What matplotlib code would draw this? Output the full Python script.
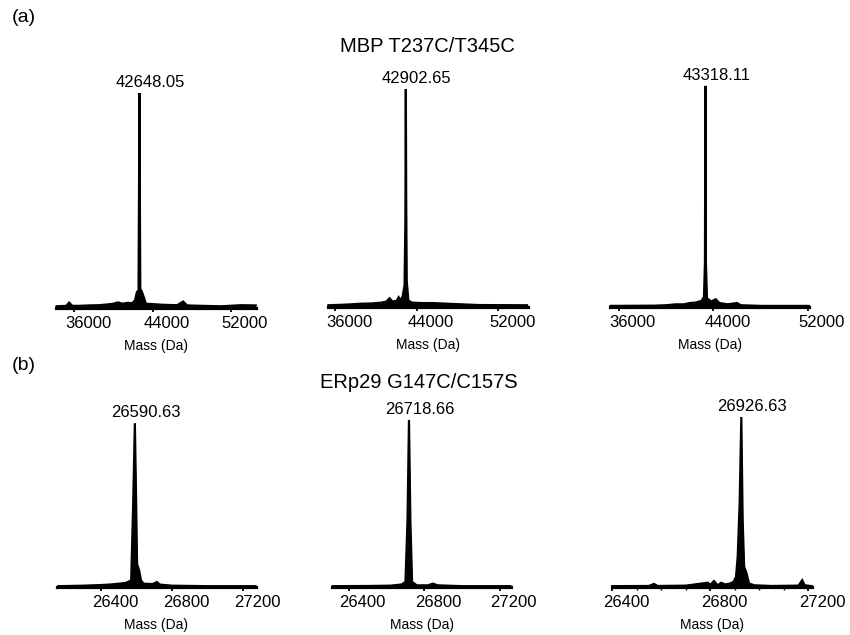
import matplotlib
matplotlib.use("Agg")
import matplotlib.pyplot as plt
from matplotlib.ticker import FixedLocator, MultipleLocator
from matplotlib.transforms import ScaledTranslation

plt.rcParams["font.family"] = ["Liberation Sans", "DejaVu Sans"]

# ---- deconvoluted mass spectra (mass in Da, relative intensity in %) ----
mbp_1_mass = [34200, 35200, 35490, 35800, 36500, 37500, 38500, 39300, 40000, 40480,
              40900, 41500, 41900, 42200, 42400, 42560, 42610, 42648.05, 42690, 42740,
              42900, 43100, 43300, 44000, 45000, 46500, 47100, 47500, 49000, 51000,
              53000, 54500]
mbp_1_int = [0.8, 1.0, 2.5, 1.0, 1.0, 1.2, 1.3, 1.6, 2.0, 2.6,
             2.0, 2.4, 2.2, 3.5, 7.5, 8.0, 55, 100, 55, 9.0,
             7.5, 5.0, 2.0, 1.8, 1.5, 1.3, 3.0, 1.2, 1.0, 0.8,
             1.3, 1.2]

mbp_2_mass = [35300, 36500, 37500, 38500, 39500, 40500, 41000, 41300, 41600, 42000,
              42200, 42400, 42600, 42780, 42860, 42902.65, 42940, 42990, 43150, 43500,
              44500, 45500, 46500, 47500, 48500, 50000, 54800]
mbp_2_int = [0.8, 1.0, 1.2, 1.5, 1.6, 2.0, 2.5, 4.0, 2.5, 2.8,
             4.5, 3.0, 5.0, 10, 40, 100, 50, 12, 3.0, 2.0,
             1.8, 1.8, 1.6, 1.4, 1.2, 0.9, 0.8]

mbp_3_mass = [35300, 39000, 40000, 40800, 41500, 42000, 42500, 43000, 43200, 43280,
              43318.11, 43360, 43450, 43800, 44200, 44500, 45200, 46000, 46300, 48000,
              52050]
mbp_3_int = [0.5, 0.6, 0.8, 1.2, 1.2, 1.8, 2.0, 2.8, 4.5, 20,
             100, 20, 4.0, 2.5, 3.5, 1.8, 1.2, 1.8, 0.8, 0.5,
             0.5]

erp_1_mass = [26160, 26300, 26400, 26450, 26500, 26540, 26570, 26581, 26590.63, 26598,
              26603, 26615, 26625, 26640, 26690, 26705, 26715, 26730, 26800, 27000,
              27270]
erp_1_int = [0.5, 0.8, 1.2, 1.5, 2.0, 2.5, 4.0, 50, 100, 50,
             14, 10, 4.0, 2.0, 1.8, 2.5, 3.0, 1.5, 0.8, 0.5,
             0.5]

erp_2_mass = [26315, 26500, 26620, 26680, 26700, 26711, 26718.66, 26726, 26735, 26760,
              26820, 26845, 26870, 27000, 27255]
erp_2_int = [0.5, 0.6, 0.8, 1.5, 3.0, 40, 100, 40, 3.0, 1.0,
             1.0, 2.0, 1.0, 0.5, 0.5]

erp_3_mass = [26400, 26550, 26570, 26585, 26700, 26790, 26800, 26815, 26830, 26845,
              26860, 26880, 26895, 26905, 26912, 26920, 26926.63, 26932, 26938, 26948,
              26958, 26980, 27050, 27160, 27175, 27185, 27214]
erp_3_int = [0.5, 0.6, 1.8, 0.6, 0.8, 2.5, 1.2, 3.5, 1.0, 2.5,
             1.5, 2.0, 3.0, 6.0, 18, 50, 100, 40, 12, 8.0,
             2.0, 1.0, 0.6, 0.8, 4.0, 1.0, 0.5]

peak_labels = ["42648.05", "42902.65", "43318.11", "26590.63", "26718.66", "26926.63"]
peak_masses = [42648.05, 42902.65, 43318.11, 26590.63, 26718.66, 26926.63]

mbp_ticks = [36000, 44000, 52000]
erp_ticks = [26400, 26800, 27200]

row_titles = ["MBP T237C/T345C", "ERp29 G147C/C157S"]
panel_tags = ["(a)", "(b)"]
x_label = "Mass (Da)"

spectra = [
    (mbp_1_mass, mbp_1_int), (mbp_2_mass, mbp_2_int), (mbp_3_mass, mbp_3_int),
    (erp_1_mass, erp_1_int), (erp_2_mass, erp_2_int), (erp_3_mass, erp_3_int),
]

# ---- layout (pixels on an 850 x 635 canvas) ----
W, H = 850, 635
# left, right, bottom (axis line), top, xmin, xmax, fraction of height reached by peak
boxes = [
    (56, 256, 308, 80, 34149, 54531, 0.943),
    (328, 528, 307, 80, 35264, 54896, 0.960),
    (610, 809, 307, 80, 35250, 52080, 0.974),
    (57, 256, 587, 405, 26152, 27273, 0.900),
    (332, 511, 587, 405, 26311, 27259, 0.918),
    (612, 812, 587, 405, 26399, 27215, 0.934),
]

fig = plt.figure(figsize=(W / 100, H / 100), dpi=100)
tick_shift = ScaledTranslation(10 / 72, 0, fig.dpi_scale_trans)

for i, ((mass, inten), box) in enumerate(zip(spectra, boxes)):
    l, r, b, t, x0, x1, frac = box
    ax = fig.add_axes([l / W, 1 - b / H, (r - l) / W, (b - t) / H])
    ax.fill_between(mass, 0, inten, color="black", lw=0, clip_on=False)
    ax.plot(mass, inten, color="black", lw=1.6, solid_joinstyle="miter", clip_on=False)
    ax.set_xlim(x0, x1)
    ax.set_ylim(0, 100 / frac)

    for side in ("top", "right", "left"):
        ax.spines[side].set_visible(False)
    ax.spines["bottom"].set_linewidth(2.3)
    ax.set_yticks([])
    ticks = mbp_ticks if i < 3 else erp_ticks
    ax.xaxis.set_major_locator(FixedLocator(ticks))
    ax.set_xticklabels([str(v) for v in ticks])
    ax.tick_params(axis="x", direction="out", length=3, width=1.3, pad=2.5,
                   labelsize=12)
    for lab in ax.get_xticklabels():
        lab.set_transform(lab.get_transform() + tick_shift)
    if i == 5:
        ax.xaxis.set_minor_locator(MultipleLocator(100))
        ax.tick_params(axis="x", which="minor", direction="out", length=1.8, width=1.0)
    ax.set_xlabel(x_label, fontsize=10, labelpad=6)
    ax.patch.set_alpha(0)

    ax.annotate(peak_labels[i], xy=(peak_masses[i], 100), xytext=(8, 2),
                textcoords="offset points", ha="center", va="bottom", fontsize=12)

# row titles and panel tags
fig.text(427 / W, 1 - 47 / H, row_titles[0], ha="center", va="center", fontsize=14.5)
fig.text(419 / W, 1 - 382 / H, row_titles[1], ha="center", va="center", fontsize=14.5)
fig.text(12 / W, 1 - 18 / H, panel_tags[0], ha="left", va="center", fontsize=14)
fig.text(12 / W, 1 - 365 / H, panel_tags[1], ha="left", va="center", fontsize=14)

fig.savefig("out.png", dpi=100, facecolor="white")
